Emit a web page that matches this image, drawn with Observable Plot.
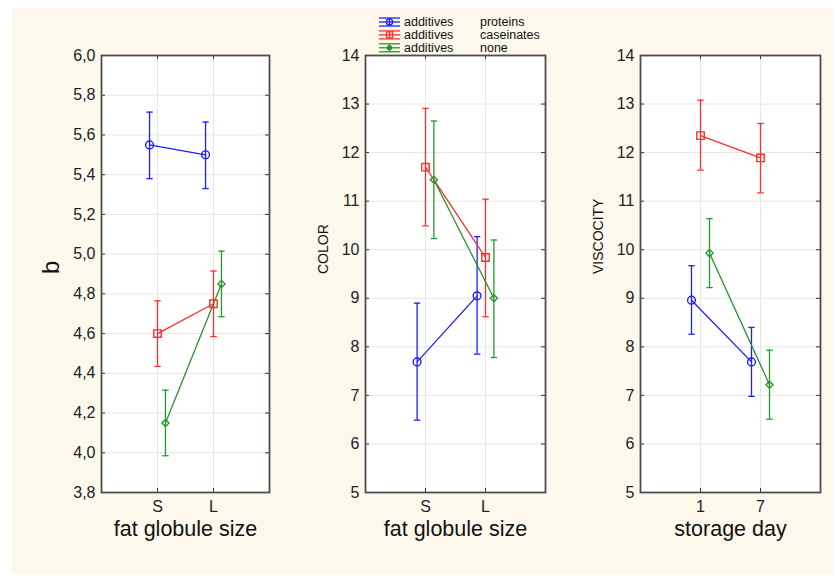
<!DOCTYPE html>
<html><head><meta charset="utf-8">
<script src="https://cdn.jsdelivr.net/npm/d3@7"></script>
<script src="https://cdn.jsdelivr.net/npm/@observablehq/plot@0.6"></script>
<style>
body{margin:0;background:#fff;font-family:"Liberation Sans",Arial,sans-serif;}
#wrap{position:relative;width:837px;height:577px;overflow:hidden;}
#bg{position:absolute;left:12px;top:8px;width:821px;height:566px;background:#fdf8ec;}
.panel{position:absolute;top:0;}
</style></head><body><div id="wrap"><div id="bg"></div></div>
<script>
// ---- data ----
const seriesNames = ["proteins", "caseinates", "none"];
const legendPrefix = "additives";
const seriesColors = ["#1e1eff", "#ff2e2e", "#27962b"];
const seriesSymbols = ["circle", "square", "diamond2"];
const sizeLabels = ["S", "L"];
const dayLabels = ["1", "7"];

// b vs fat globule size
const bMean = [[5.55, 5.50], [4.60, 4.75], [4.15, 4.85]];
const bLow  = [[5.38, 5.33], [4.435, 4.585], [3.985, 4.685]];
const bHigh = [[5.715, 5.665], [4.765, 4.915], [4.315, 5.015]];
const bTicks = [3.8, 4.0, 4.2, 4.4, 4.6, 4.8, 5.0, 5.2, 5.4, 5.6, 5.8, 6.0];

// COLOR vs fat globule size
const colorMean = [[7.69, 9.05], [11.70, 9.84], [11.44, 9.00]];
const colorLow  = [[6.49, 7.85], [10.49, 8.62], [10.23, 7.78]];
const colorHigh = [[8.90, 10.27], [12.91, 11.04], [12.65, 10.20]];

// VISCOCITY vs storage day
const viscMean = [[8.96, 7.69], [12.35, 11.89], [9.93, 7.22]];
const viscLow  = [[8.26, 6.98], [11.64, 11.17], [9.22, 6.51]];
const viscHigh = [[9.67, 8.40], [13.08, 12.60], [10.64, 7.93]];
const intTicks = [5, 6, 7, 8, 9, 10, 11, 12, 13, 14];

const FONT = "'Liberation Sans', Arial, sans-serif";
const H = 577, MT = 55, MB = 85;

function panel({left, width, ml, mr, yDomain, yTicks, yFmt, cats, mean, low, high, off, ylabel, ylabelSize, ydx, xlabel}) {
  const innerW = width - ml - mr, innerH = H - MT - MB;
  const unit = innerW / 3;
  const cap = 3.2 / unit;
  const rows = [];
  seriesNames.forEach((s, i) => cats.forEach((c, j) => rows.push({
    s, i, x: j + 1 + (i - 1) * off, m: mean[i][j], lo: low[i][j], hi: high[i][j]
  })));
  const dotR = [3.9, 4.2, 3.2];
  const p = Plot.plot({
    width, height: H, marginLeft: ml, marginRight: mr, marginTop: MT, marginBottom: MB,
    style: {background: "transparent", fontFamily: FONT, color: "#222", overflow: "visible"},
    x: {domain: [0, 3]},
    y: {domain: yDomain},
    color: {domain: seriesNames, range: seriesColors},
    marks: [
      Plot.frame({fill: "white"}),
      Plot.gridY(yTicks, {stroke: "#e6e6e6", strokeOpacity: 1}),
      Plot.gridX([1, 2], {stroke: "#e6e6e6", strokeOpacity: 1}),
      Plot.tickY(yTicks, {y: d => d, insetRight: innerW - 4, stroke: "#333"}),
      Plot.tickY(yTicks, {y: d => d, insetLeft: innerW - 4, stroke: "#333"}),
      Plot.tickX([1, 2], {x: d => d, insetTop: innerH - 4, stroke: "#333"}),
      Plot.tickX([1, 2], {x: d => d, insetBottom: innerH - 4, stroke: "#333"}),
      Plot.axisY(yTicks, {tickSize: 0, tickPadding: 6, fontSize: 16, tickFormat: yFmt, label: null, fill: "#222"}),
      Plot.axisX([1, 2], {tickSize: 0, tickPadding: 8, fontSize: 16, tickFormat: d => cats[d - 1], label: null, fill: "#222"}),
      Plot.ruleX(rows, {x: "x", y1: "lo", y2: "hi", stroke: "s", strokeWidth: 1.3}),
      Plot.link(rows, {x1: d => d.x - cap, x2: d => d.x + cap, y1: "lo", y2: "lo", stroke: "s", strokeWidth: 1.3}),
      Plot.link(rows, {x1: d => d.x - cap, x2: d => d.x + cap, y1: "hi", y2: "hi", stroke: "s", strokeWidth: 1.3}),
      Plot.line(rows, {x: "x", y: "m", z: "s", stroke: "s", strokeWidth: 1.3}),
      ...seriesNames.map((s, i) => Plot.dot(rows.filter(d => d.i === i), {
        x: "x", y: "m", symbol: seriesSymbols[i], r: dotR[i], stroke: seriesColors[i], fill: "none", strokeWidth: 1.4
      })),
      Plot.frame({stroke: "#4d4d4d", strokeWidth: 1.8}),
      Plot.text([ylabel], {text: d => d, frameAnchor: "left", dx: ydx, rotate: -90, fontSize: ylabelSize, fill: "#111"}),
      Plot.text([xlabel], {text: d => d, frameAnchor: "bottom", dy: 43, fontSize: 21.5, fill: "#111"})
    ]
  });
  p.classList.add("panel");
  p.style.left = left + "px";
  p.style.position = "absolute";
  p.style.top = "0px";
  document.getElementById("wrap").appendChild(p);
}

const commaFmt = d => d.toFixed(1).replace(".", ",");

panel({left: 0, width: 280, ml: 101, mr: 11, yDomain: [3.8, 6.0], yTicks: bTicks, yFmt: commaFmt,
  cats: sizeLabels, mean: bMean, low: bLow, high: bHigh, off: 0.142,
  ylabel: "b", ylabelSize: 24, ydx: -50, xlabel: "fat globule size"});
panel({left: 280, width: 275, ml: 85, mr: 10, yDomain: [5, 14], yTicks: intTicks, yFmt: d => String(d),
  cats: sizeLabels, mean: colorMean, low: colorLow, high: colorHigh, off: 0.14,
  ylabel: "COLOR", ylabelSize: 14, ydx: -42, xlabel: "fat globule size"});
panel({left: 555, width: 282, ml: 85, mr: 17, yDomain: [5, 14], yTicks: intTicks, yFmt: d => String(d),
  cats: dayLabels, mean: viscMean, low: viscLow, high: viscHigh, off: 0.15,
  ylabel: "VISCOCITY", ylabelSize: 14, ydx: -42, xlabel: "storage day"});

// ---- legend ----
const leg = d3.create("svg").attr("width", 200).attr("height", 50)
  .style("position", "absolute").style("left", "370px").style("top", "9px")
  .style("font-family", FONT);
seriesNames.forEach((s, i) => {
  const y = 13 + i * 12.9, c = seriesColors[i], cx = 19.5;
  const g = leg.append("g").attr("stroke", c).attr("fill", "none").attr("stroke-width", 1.3);
  [-4, 0, 4].forEach(dy => g.append("line").attr("x1", 9).attr("x2", 30).attr("y1", y + dy).attr("y2", y + dy));
  g.append("line").attr("x1", cx).attr("x2", cx).attr("y1", y - 4).attr("y2", y + 4);
  const sym = [d3.symbolCircle, d3.symbolSquare, d3.symbolCircle][i];
  const size = [30, 36, 14][i];
  g.append("path").attr("d", d3.symbol(sym, size)()).attr("transform", `translate(${cx},${y})`)
    .attr("fill", i === 2 ? c : "none");
  leg.append("text").attr("x", 34).attr("y", y).attr("dy", "0.35em").attr("font-size", 12.5).attr("fill", "#111").text(legendPrefix);
  leg.append("text").attr("x", 110).attr("y", y).attr("dy", "0.35em").attr("font-size", 12.5).attr("fill", "#111").text(s);
});
document.getElementById("wrap").appendChild(leg.node());
</script></body></html>
